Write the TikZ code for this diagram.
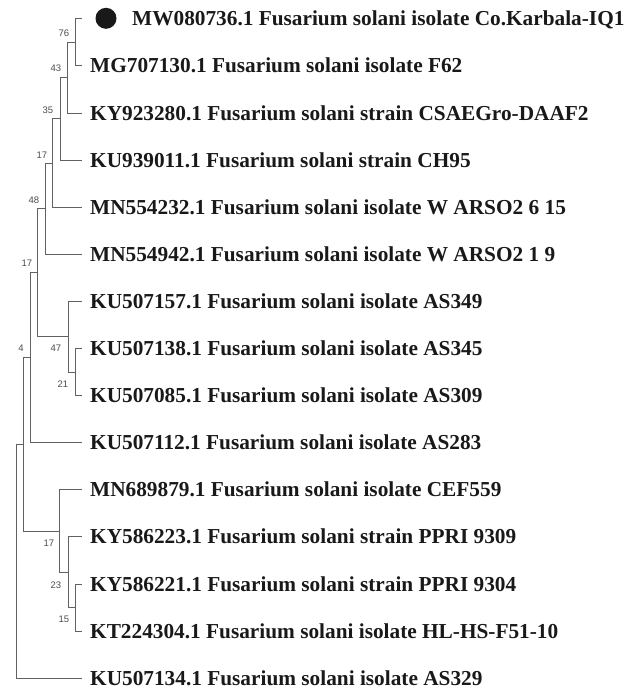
\documentclass[tikz,border=0pt]{standalone}
\usepackage{fontspec}
\setmainfont{Liberation Serif}
\newfontfamily\bsfont{Liberation Sans}
\tikzset{
  branch/.style={draw=black!62, line width=0.9pt},
  leaf/.style={anchor=west, inner sep=0pt, text height=14.1pt, text depth=0pt,
    font=\fontsize{21.3}{24}\selectfont\bfseries, text=black!90},
  boot/.style={inner sep=0pt, font=\bsfont\fontsize{9.5}{10}\selectfont, text=black!70},
}
\begin{document}
\begin{tikzpicture}[x=1pt, y=-1pt]
\useasboundingbox (0,0) rectangle (643,689);
% leaf tips
\foreach \i [evaluate=\i as \yy using 18.8+47.1*(\i-1)] in {1,...,15}
{
  \coordinate (t\i) at (82,\yy);
}
\node[leaf] (L1) at (132,18.8) {MW080736.1 Fusarium solani isolate Co.Karbala-IQ1};
\node[leaf] (L2) at (90,65.9) {MG707130.1 Fusarium solani isolate F62};
\node[leaf] (L3) at (90,113.0) {KY923280.1 Fusarium solani strain CSAEGro-DAAF2};
\node[leaf] (L4) at (90,160.1) {KU939011.1 Fusarium solani strain CH95};
\node[leaf] (L5) at (90,207.2) {MN554232.1 Fusarium solani isolate W ARSO2 6 15};
\node[leaf] (L6) at (90,254.3) {MN554942.1 Fusarium solani isolate W ARSO2 1 9};
\node[leaf] (L7) at (90,301.4) {KU507157.1 Fusarium solani isolate AS349};
\node[leaf] (L8) at (90,348.5) {KU507138.1 Fusarium solani isolate AS345};
\node[leaf] (L9) at (90,395.6) {KU507085.1 Fusarium solani isolate AS309};
\node[leaf] (L10) at (90,442.7) {KU507112.1 Fusarium solani isolate AS283};
\node[leaf] (L11) at (90,489.8) {MN689879.1 Fusarium solani isolate CEF559};
\node[leaf] (L12) at (90,536.9) {KY586223.1 Fusarium solani strain PPRI 9309};
\node[leaf] (L13) at (90,584.0) {KY586221.1 Fusarium solani strain PPRI 9304};
\node[leaf] (L14) at (90,631.1) {KT224304.1 Fusarium solani isolate HL-HS-F51-10};
\node[leaf] (L15) at (90,678.2) {KU507134.1 Fusarium solani isolate AS329};
\fill[black!90] (106,18.3) circle[radius=10.5];
% internal nodes
\coordinate (n76) at (75,42.35);
\coordinate (n43) at (67,77.7);
\coordinate (n35) at (60,118.9);
\coordinate (n17a) at (52.5,163.0);
\coordinate (n48) at (45,208.6);
\coordinate (n21) at (75,372.05);
\coordinate (n47) at (68,336.7);
\coordinate (n17b) at (37.7,272.7);
\coordinate (n4) at (30.7,357.7);
\coordinate (n15) at (75,607.55);
\coordinate (n23) at (68,572.2);
\coordinate (n17c) at (59,531.0);
\coordinate (nA) at (23,444.4);
\coordinate (root) at (16,561.3);
% branches
\draw[branch] (n76) |- (t1);  \draw[branch] (n76) |- (t2);
\draw[branch] (n43) |- (n76); \draw[branch] (n43) |- (t3);
\draw[branch] (n35) |- (n43); \draw[branch] (n35) |- (t4);
\draw[branch] (n17a) |- (n35); \draw[branch] (n17a) |- (t5);
\draw[branch] (n48) |- (n17a); \draw[branch] (n48) |- (t6);
\draw[branch] (n21) |- (t8);  \draw[branch] (n21) |- (t9);
\draw[branch] (n47) |- (t7);  \draw[branch] (n47) |- (n21);
\draw[branch] (n17b) |- (n48); \draw[branch] (n17b) |- (n47);
\draw[branch] (n4) |- (n17b); \draw[branch] (n4) |- (t10);
\draw[branch] (n15) |- (t13); \draw[branch] (n15) |- (t14);
\draw[branch] (n23) |- (t12); \draw[branch] (n23) |- (n15);
\draw[branch] (n17c) |- (t11); \draw[branch] (n17c) |- (n23);
\draw[branch] (nA) |- (n4);   \draw[branch] (nA) |- (n17c);
\draw[branch] (root) |- (nA); \draw[branch] (root) |- (t15);
% bootstrap values
\node[boot] (b76) at (64,33) {76};
\node[boot] (b43) at (56,68) {43};
\node[boot] (b35) at (48,110) {35};
\node[boot] (b17a) at (42,155) {17};
\node[boot] (b48) at (34,200) {48};
\node[boot] (b17b) at (27,263) {17};
\node[boot] (b4) at (21,348.5) {4};
\node[boot] (b47) at (56,348.5) {47};
\node[boot] (b21) at (63,384) {21};
\node[boot] (b17c) at (49,543) {17};
\node[boot] (b23) at (56,585) {23};
\node[boot] (b15) at (64,619.5) {15};
\end{tikzpicture}
\end{document}
